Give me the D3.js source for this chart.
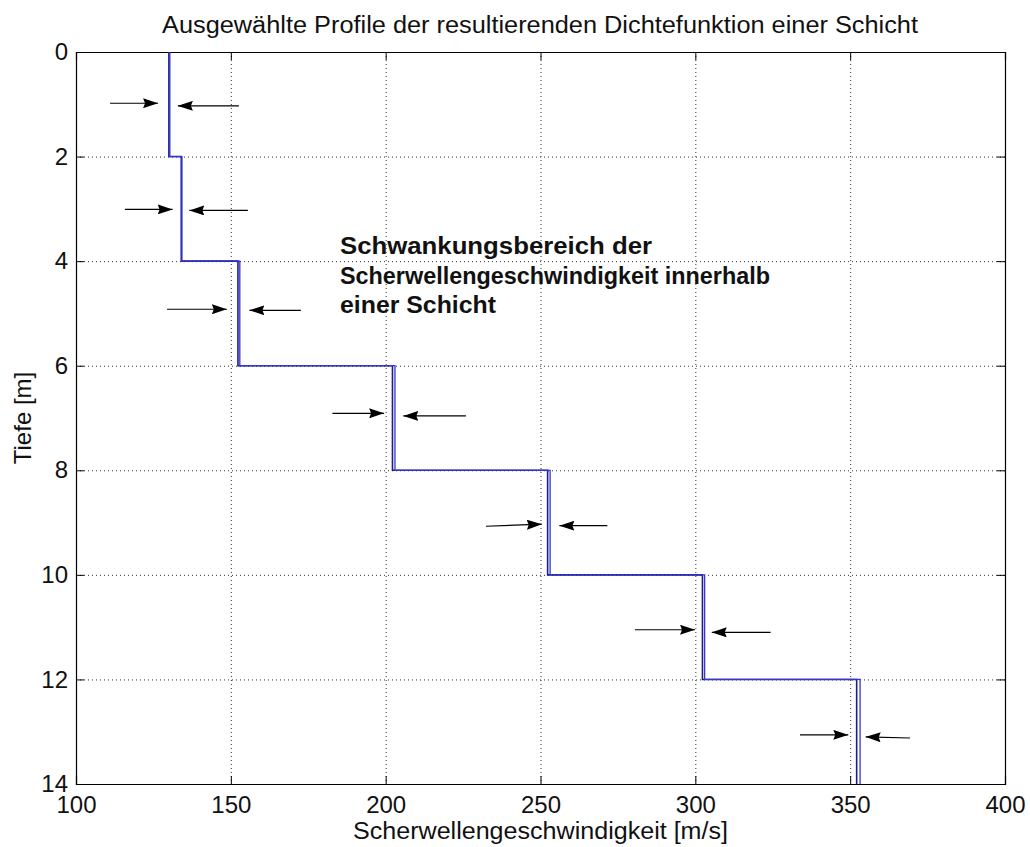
<!DOCTYPE html>
<html>
<head>
<meta charset="utf-8">
<script src="https://cdn.jsdelivr.net/npm/d3@7"></script>
<style>
  body { margin: 0; background: #fff; }
  svg { display: block; font-family: "Liberation Sans", Arial, sans-serif; }
</style>
</head>
<body>
<svg width="1030" height="847"></svg>
<script>
// layer boundaries (Tiefe in m)
const depths = [0, 2, 4, 6, 8, 10, 12, 14];

// selected profiles, one velocity per layer (m/s)
const profileNavy = [130.0, 134.0, 152.3, 202.2, 252.3, 302.3, 352.1];
const profileBlue = [130.3, 134.2, 152.9, 203.0, 253.1, 303.0, 353.2];

const xTicks = [100, 150, 200, 250, 300, 350, 400];
const yTicks = [0, 2, 4, 6, 8, 10, 12, 14];

// arrows: [x tail, y tail, x tip, y tip] in data units
const arrowsLeft = [
  [111.0, 0.98, 126.5, 0.98],
  [115.8, 3.01, 131.2, 3.01],
  [129.4, 4.92, 148.7, 4.92],
  [182.8, 6.91, 199.5, 6.91],
  [232.4, 9.07, 250.4, 9.03],
  [280.5, 11.05, 299.9, 11.05],
  [333.8, 13.06, 349.4, 13.06]
];
const arrowsRight = [
  [152.6, 1.03, 132.9, 1.03],
  [155.5, 3.03, 136.6, 3.03],
  [172.6, 4.94, 156.0, 4.94],
  [225.9, 6.96, 205.7, 6.96],
  [271.6, 9.06, 256.1, 9.06],
  [324.3, 11.10, 305.3, 11.10],
  [369.3, 13.12, 355.0, 13.10]
];

const note = [
  "Schwankungsbereich der",
  "Scherwellengeschwindigkeit innerhalb",
  "einer Schicht"
];
const noteWidths = [312, 430, 156];

const svg = d3.select("svg");
const mLeft = 76, mRight = 1005, mTop = 52, mBottom = 784;

const x = d3.scaleLinear().domain([100, 400]).range([mLeft, mRight]);
const y = d3.scaleLinear().domain([0, 14]).range([mTop, mBottom]);

// grid
const grid = svg.append("g")
    .attr("stroke", "#333")
    .attr("stroke-width", 1)
    .attr("stroke-dasharray", "1,3");
grid.selectAll("line.gx")
  .data(xTicks.slice(1, -1))
  .join("line")
    .attr("x1", d => x(d) + 0.5).attr("x2", d => x(d) + 0.5)
    .attr("y1", mTop).attr("y2", mBottom);
grid.selectAll("line.gy")
  .data(yTicks.slice(1, -1))
  .join("line")
    .attr("y1", d => y(d) + 0.5).attr("y2", d => y(d) + 0.5)
    .attr("x1", mLeft).attr("x2", mRight);

// axes with inner ticks, matlab style
const fontSize = 24;
const axB = svg.append("g").attr("transform", `translate(0,${mBottom})`)
  .call(d3.axisBottom(x).tickValues(xTicks).tickSize(-8).tickPadding(16));
const axT = svg.append("g").attr("transform", `translate(0,${mTop})`)
  .call(d3.axisTop(x).tickValues(xTicks).tickSize(-8).tickFormat(""));
const axL = svg.append("g").attr("transform", `translate(${mLeft},0)`)
  .call(d3.axisLeft(y).tickValues(yTicks).tickSize(-8).tickPadding(8));
const axR = svg.append("g").attr("transform", `translate(${mRight},0)`)
  .call(d3.axisRight(y).tickValues(yTicks).tickSize(-8).tickFormat(""));

[axB, axT, axL, axR].forEach(a => {
  a.select(".domain").attr("stroke", "#000").attr("stroke-width", 1.2);
  a.selectAll(".tick line").attr("stroke", "#000").attr("stroke-width", 1);
  a.selectAll("text").attr("font-size", fontSize).attr("fill", "#111")
    .attr("font-family", "Liberation Sans, Arial, sans-serif");
});
axB.selectAll("text").attr("dy", "0.55em");

// profiles
function steps(vals) {
  const pts = [];
  vals.forEach((v, i) => {
    pts.push([v, depths[i]]);
    pts.push([v, depths[i + 1]]);
  });
  return pts;
}
const line = d3.line().x(d => x(d[0])).y(d => y(d[1]));

svg.append("path")
  .attr("d", line(steps(profileNavy)))
  .attr("fill", "none").attr("stroke", "#1c1c8a").attr("stroke-width", 1.6);
svg.append("path")
  .attr("d", line(steps(profileBlue)))
  .attr("fill", "none").attr("stroke", "#3535d0").attr("stroke-width", 1.3);

// arrows
const defs = svg.append("defs");
defs.append("marker")
    .attr("id", "head")
    .attr("viewBox", "0 0 15 10")
    .attr("refX", 15).attr("refY", 5)
    .attr("markerWidth", 15).attr("markerHeight", 10)
    .attr("markerUnits", "userSpaceOnUse")
    .attr("orient", "auto")
  .append("path")
    .attr("d", "M0,0L15,5L0,10L2,5Z")
    .attr("fill", "#000");

svg.append("g").selectAll("line")
  .data(arrowsLeft.concat(arrowsRight))
  .join("line")
    .attr("x1", d => x(d[0])).attr("y1", d => y(d[1]))
    .attr("x2", d => x(d[2])).attr("y2", d => y(d[3]))
    .attr("stroke", "#000").attr("stroke-width", 1.2)
    .attr("marker-end", "url(#head)");

// annotation
svg.append("g").selectAll("text")
  .data(note)
  .join("text")
    .attr("x", 340)
    .attr("y", (d, i) => 254 + i * 29.5)
    .attr("font-size", 23)
    .attr("font-weight", "bold")
    .attr("fill", "#111")
    .attr("textLength", (d, i) => noteWidths[i])
    .attr("lengthAdjust", "spacingAndGlyphs")
    .text(d => d);

// title and labels
svg.append("text")
  .attr("x", 162).attr("y", 33)
  .attr("font-size", 23)
  .attr("fill", "#111")
  .attr("textLength", 756)
  .attr("lengthAdjust", "spacingAndGlyphs")
  .text("Ausgewählte Profile der resultierenden Dichtefunktion einer Schicht");

svg.append("text")
  .attr("x", 353).attr("y", 839)
  .attr("font-size", 23)
  .attr("fill", "#111")
  .attr("textLength", 375)
  .attr("lengthAdjust", "spacingAndGlyphs")
  .text("Scherwellengeschwindigkeit [m/s]");

svg.append("text")
  .attr("transform", `translate(31,${(mTop + mBottom) / 2}) rotate(-90)`)
  .attr("text-anchor", "middle")
  .attr("font-size", 24)
  .attr("fill", "#111")
  .text("Tiefe [m]");
</script>
</body>
</html>
